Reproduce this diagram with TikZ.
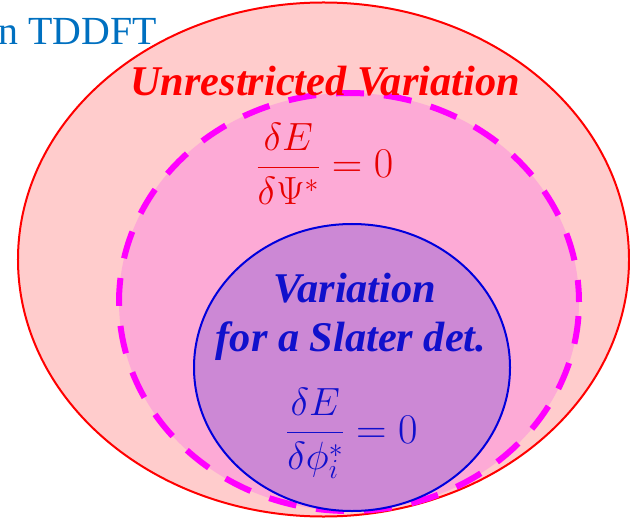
\RequirePackage{fix-cm}
\documentclass[tikz,border=0pt]{standalone}
\usepackage[no-math]{fontspec}
\setmainfont{Liberation Serif}
\definecolor{outerfill}{HTML}{FFCCCC}
\definecolor{midfill}{HTML}{FDAAD6}
\definecolor{innerfill}{HTML}{CC88D5}
\definecolor{dashmag}{HTML}{FF00FF}
\definecolor{tdblue}{HTML}{0070C0}
\definecolor{txtblue}{HTML}{1010CC}
\definecolor{ringblue}{HTML}{0000DD}
\definecolor{eqred}{HTML}{E80000}
\newcommand{\bigfrac}[2]{\raisebox{0.75bp}{\fontsize{39.5}{46}\selectfont$\displaystyle\frac{#1}{#2}$}}
\tikzset{
  outerset/.style={draw=red, line width=2bp, fill=outerfill},
  midset/.style={draw=dashmag, line width=6bp, fill=midfill, dash pattern=on 28bp off 20bp, dash phase=6bp},
  innerset/.style={draw=ringblue, line width=2bp, fill=innerfill},
  bigtitle/.style={font=\fontsize{42.5}{46}\selectfont\bfseries\itshape, inner sep=0pt, anchor=base},
  eqn/.style={font=\fontsize{42.5}{50}\selectfont, inner sep=0pt, anchor=base}
}
\begin{document}
\begin{tikzpicture}[x=1bp, y=-1bp]
\useasboundingbox (0,0) rectangle (630,518);
\draw[outerset] (323.5,259.5) ellipse [x radius=305.5bp, y radius=257bp];
\draw[midset] (349,302) ellipse [x radius=230bp, y radius=209bp];
\draw[innerset] (352,367.5) ellipse [x radius=158bp, y radius=143.5bp];
\node[font=\fontsize{40}{44}\selectfont, text=tdblue, inner sep=0pt, anchor=base east] (tddft) at (157,45) {n TDDFT};
\node[bigtitle, text=red] (unres) at (325,96) {Unrestricted Variation};
\node[eqn, text=eqred] (eqA) at (325,178) {$\bigfrac{\delta E}{\delta\Psi^*}=0$};
\node[bigtitle, text=txtblue] (var) at (355,302) {Variation};
\node[bigtitle, text=txtblue] (slater) at (351,351) {for a Slater det.};
\node[eqn, text=txtblue] (eqB) at (352,443) {$\bigfrac{\delta E}{\delta\phi_i^*}=0$};
\end{tikzpicture}
\end{document}
